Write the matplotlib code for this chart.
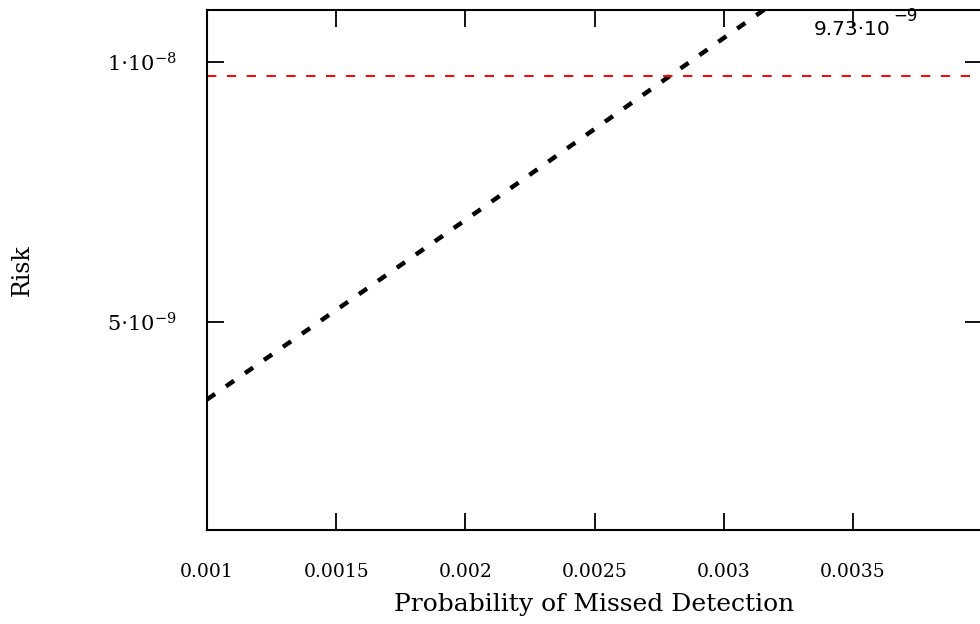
import matplotlib
matplotlib.use("Agg")
import matplotlib.pyplot as plt
import numpy as np

# Data
pmd = [0.001, 0.0015, 0.002, 0.0025, 0.003, 0.0035, 0.004]
risk = [3.51e-9, 5.23e-9, 6.96e-9, 8.71e-9, 10.46e-9, 12.20e-9, 13.95e-9]
threshold = 9.73e-9
xticks = [0.001, 0.0015, 0.002, 0.0025, 0.003, 0.0035]
xtick_labels = ["0.001", "0.0015", "0.002", "0.0025", "0.003", "0.0035"]
yticks = [5e-9, 1e-8]
ytick_labels = [r"$5{\cdot}10^{-9}$", r"$1{\cdot}10^{-8}$"]

plt.rcParams['font.family'] = ['DejaVu Serif']
plt.rcParams['mathtext.fontset'] = 'dejavuserif'

fig = plt.figure(figsize=(9.8, 6.24), dpi=100)
ax = fig.add_axes([207/980, 94/624, 775/980, 520/624])

ax.plot(pmd, risk, color='black', lw=3.2, linestyle=(0, (2.2, 3.0)),
        dash_capstyle='butt', clip_on=True)
ax.axhline(threshold, color='#ff0000', lw=1.4, linestyle=(0, (4.8, 5.4)))

ax.set_xlim(0.001, 0.004)
ax.set_ylim(1e-9, 1.1e-8)

ax.set_xticks(xticks)
ax.set_xticklabels(xtick_labels, fontsize=13.5)
ax.set_yticks(yticks)
ax.set_yticklabels(ytick_labels, fontsize=15)

ax.tick_params(axis='both', direction='in', length=12, width=1.3,
               top=True, right=True)
ax.tick_params(axis='x', pad=24)
ax.tick_params(axis='y', pad=22)

for s in ax.spines.values():
    s.set_linewidth(1.5)

ax.set_xlabel("Probability of Missed Detection", fontsize=18)
ax.xaxis.set_label_coords(0.5, -0.122)
ax.set_ylabel("Risk", fontsize=17)
ax.yaxis.set_label_coords(-0.224, 0.5)

mant, expo = f"{threshold:.2e}".split("e")
ax.text(0.003644, 1.0625e-8, f"{mant}\u00b710",
        ha='right', va='center', fontsize=14.5, family='DejaVu Sans')
ax.text(0.003655, 1.088e-8, f"\u2212{abs(int(expo))}",
        ha='left', va='center', fontsize=12, family='DejaVu Sans',
        zorder=2, clip_on=False)

fig.savefig("out.png", dpi=100)
